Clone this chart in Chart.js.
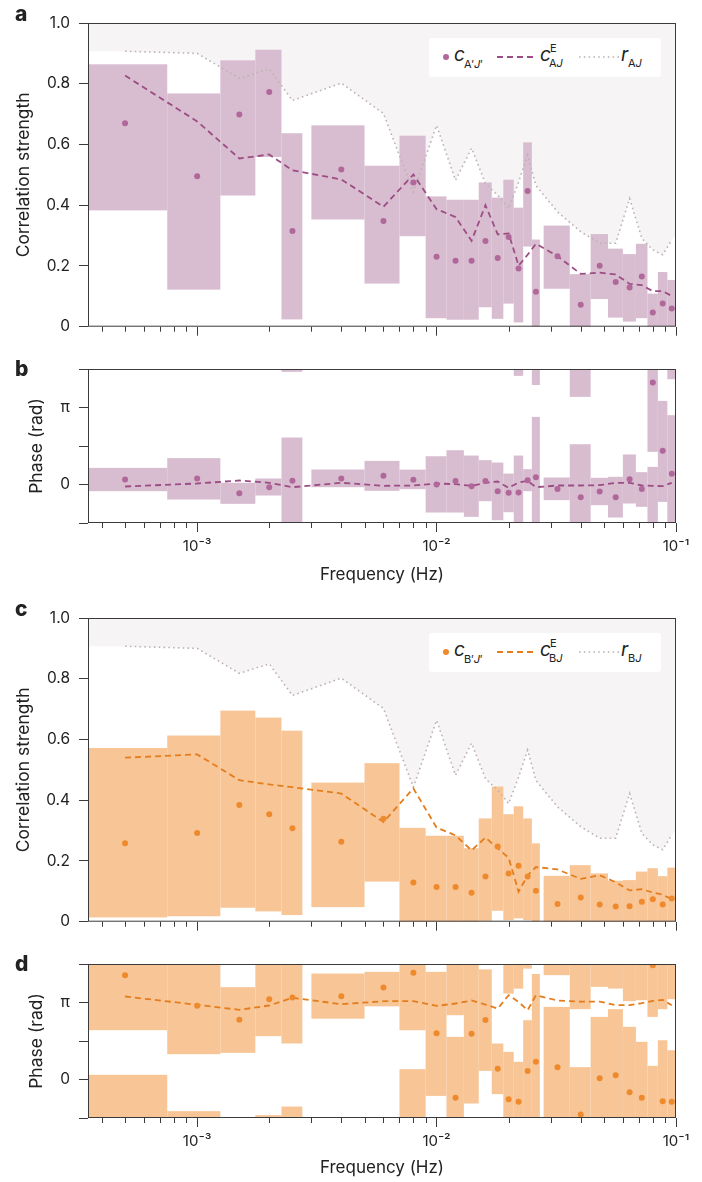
<!DOCTYPE html>
<html>
<head>
<meta charset="utf-8">
<title>Correlation strength and phase vs frequency</title>
<script src="https://cdn.jsdelivr.net/npm/chart.js@4.4.1/dist/chart.umd.min.js"></script>
<style>
  body { margin: 0; background: #fff; }
  #page { position: relative; width: 702px; height: 1182px; overflow: hidden; font-family: Inter, "Noto Sans", sans-serif; color: #222; }
  #page canvas { position: absolute; left: 0; }
  .tag { position: absolute; left: 15px; font-size: 21px; font-weight: 800; line-height: 20px; }
  .legend { position: absolute; left: 429px; width: 232px; height: 39px; background: #fff; border-radius: 3px; }
  .legend > * { position: absolute; }
  .legend .big { font-size: 19px; line-height: 19px; font-style: italic; }
  .legend .small { font-size: 11px; line-height: 11px; }
  .legend .dot { width: 6px; height: 6px; border-radius: 50%; left: 14px; top: 16px; }
</style>
</head>
<body>
<div id="page">
  <canvas id="panelA" width="702" height="345" style="top:0"></canvas>
  <canvas id="panelB" width="702" height="250" style="top:345px"></canvas>
  <canvas id="panelC" width="702" height="345" style="top:595px"></canvas>
  <canvas id="panelD" width="702" height="242" style="top:940px"></canvas>

  <div class="tag" style="top:4px">a</div>
  <div class="tag" style="top:359px">b</div>
  <div class="tag" style="top:599px">c</div>
  <div class="tag" style="top:954px">d</div>

  <div class="legend" style="top:38px">
    <span class="dot" style="background:#b0689a"></span>
    <span class="big" style="left:25px;top:7px">c</span>
    <span class="small" style="left:35px;top:21px">A′<i>J</i>′</span>
    <svg style="left:68px;top:16px" width="40" height="6"><line x1="0" y1="3" x2="40" y2="3" stroke="#9c4d84" stroke-width="1.8" stroke-dasharray="6 4"/></svg>
    <span class="big" style="left:111px;top:7px">c</span>
    <span class="small" style="left:121px;top:5px">E</span>
    <span class="small" style="left:120px;top:20px">A<i>J</i></span>
    <svg style="left:150px;top:16px" width="40" height="6"><line x1="0" y1="3" x2="40" y2="3" stroke="#bdb3b3" stroke-width="1.6" stroke-dasharray="1.6 3.2"/></svg>
    <span class="big" style="left:192px;top:7px">r</span>
    <span class="small" style="left:199px;top:20px">A<i>J</i></span>
  </div>

  <div class="legend" style="top:633px">
    <span class="dot" style="background:#ef8a2c"></span>
    <span class="big" style="left:25px;top:7px">c</span>
    <span class="small" style="left:35px;top:21px">B′<i>J</i>′</span>
    <svg style="left:68px;top:16px" width="40" height="6"><line x1="0" y1="3" x2="40" y2="3" stroke="#e57d1c" stroke-width="1.8" stroke-dasharray="6 4"/></svg>
    <span class="big" style="left:111px;top:7px">c</span>
    <span class="small" style="left:121px;top:5px">E</span>
    <span class="small" style="left:120px;top:20px">B<i>J</i></span>
    <svg style="left:150px;top:16px" width="40" height="6"><line x1="0" y1="3" x2="40" y2="3" stroke="#bdb3b3" stroke-width="1.6" stroke-dasharray="1.6 3.2"/></svg>
    <span class="big" style="left:192px;top:7px">r</span>
    <span class="small" style="left:199px;top:20px">B<i>J</i></span>
  </div>
</div>

<script>
// frequency bins (Hz) and half-width of each bin
const freqs = [0.0005, 0.001, 0.0015, 0.002, 0.0025, 0.004, 0.006, 0.008, 0.010, 0.012, 0.014, 0.016, 0.018,
  0.020, 0.022, 0.024, 0.026, 0.032, 0.040, 0.048, 0.056, 0.064, 0.072, 0.080, 0.088, 0.096];
const binHalfWidth = [0.00025, 0.00025, 0.00025, 0.00025, 0.00025, 0.001, 0.001, 0.001, 0.001, 0.001, 0.001, 0.001,
  0.001, 0.001, 0.001, 0.001, 0.001, 0.004, 0.004, 0.004, 0.004, 0.004, 0.004, 0.004, 0.004, 0.004];

// r (same curve in a and c), plus where the shaded area meets the right edge
const rJ = [0.907, 0.900, 0.818, 0.849, 0.745, 0.802, 0.702, 0.443, 0.663, 0.482, 0.588, 0.471, 0.433,
  0.389, 0.476, 0.565, 0.465, 0.378, 0.313, 0.275, 0.275, 0.422, 0.291, 0.253, 0.237, 0.286];
const rAtRightEdge = 0.30;

// a: correlation strength A'J'
const aLow = [0.383, 0.122, 0.432, 0.559, 0.024, 0.353, 0.142, 0.298, 0.028, 0.023, 0.023, 0.064, 0.026,
  0.076, 0.014, 0.264, 0, 0.125, 0, 0.091, 0.030, 0.017, 0.028, 0, 0, 0];
const aHigh = [0.864, 0.768, 0.877, 0.912, 0.637, 0.663, 0.530, 0.629, 0.429, 0.418, 0.418, 0.475, 0.425,
  0.484, 0.392, 0.607, 0.287, 0.333, 0.173, 0.305, 0.257, 0.239, 0.273, 0.109, 0.180, 0.154];
const aMeasured = [0.670, 0.495, 0.699, 0.773, 0.315, 0.518, 0.348, 0.475, 0.230, 0.217, 0.217, 0.282, 0.226,
  0.295, 0.192, 0.447, 0.115, 0.232, 0.072, 0.201, 0.147, 0.129, 0.165, 0.047, 0.076, 0.060];
const aExpected = [0.827, 0.676, 0.554, 0.567, 0.515, 0.485, 0.395, 0.501, 0.387, 0.361, 0.283, 0.400, 0.304,
  0.307, 0.201, 0.237, 0.273, 0.232, 0.174, 0.178, 0.172, 0.141, 0.137, 0.117, 0.117, 0.101];

// b: phase A'J' (units of pi)
const bLow = [-0.087, -0.195, -0.251, -0.143, -0.537, -0.035, -0.082, -0.061, -0.364, -0.364, -0.420, -0.217, -0.464,
  -0.360, -0.589, -0.087, -0.708, -0.203, -0.862, -0.269, -0.429, -0.247, -0.290, 0.424, -0.226, -0.633];
const bHigh = [0.216, 0.342, 0.022, 0.078, 0.610, 0.195, 0.307, 0.193, 0.367, 0.445, 0.376, 0.316, 0.285,
  0.142, 0.376, 0.199, 0.878, 0.091, 0.523, 0.087, 0.100, 0.390, 0.160, 2.229, 1.086, 0.900];
const bMeasured = [0.065, 0.078, -0.113, -0.035, 0.048, 0.078, 0.113, 0.061, 0.000, 0.047, -0.022, 0.047, -0.087,
  -0.108, -0.104, 0.056, 0.095, -0.057, -0.165, -0.091, -0.165, 0.069, -0.057, 1.324, 0.437, 0.138];
const bExpected = [-0.026, 0.013, 0.052, 0.022, -0.035, 0.022, -0.017, -0.013, 0.013, 0.004, -0.017, 0.022, 0.039,
  -0.043, 0.026, 0.048, -0.035, -0.013, -0.013, -0.009, 0.022, 0.022, -0.013, -0.017, -0.022, 0.022];

// c: correlation strength B'J'
const cLow = [0.014, 0.018, 0.046, 0.034, 0.022, 0.048, 0.132, 0, 0, 0, 0, 0.003, 0.036,
  0.005, 0.011, 0.005, 0, 0, 0, 0, 0, 0, 0, 0, 0, 0];
const cHigh = [0.572, 0.613, 0.695, 0.672, 0.629, 0.458, 0.522, 0.309, 0.283, 0.283, 0.242, 0.340, 0.445,
  0.354, 0.380, 0.340, 0.258, 0.151, 0.186, 0.159, 0.135, 0.137, 0.165, 0.176, 0.150, 0.178];
const cMeasured = [0.258, 0.292, 0.384, 0.354, 0.308, 0.263, 0.339, 0.129, 0.114, 0.114, 0.095, 0.149, 0.248,
  0.159, 0.184, 0.149, 0.102, 0.058, 0.080, 0.057, 0.050, 0.051, 0.066, 0.074, 0.057, 0.076];
const cExpected = [0.540, 0.551, 0.466, 0.452, 0.443, 0.422, 0.328, 0.439, 0.310, 0.284, 0.235, 0.277, 0.242,
  0.210, 0.099, 0.152, 0.180, 0.172, 0.141, 0.153, 0.130, 0.103, 0.107, 0.096, 0.089, 0.074];

// d: phase B'J' (units of pi), intervals wrap around 2 pi
const dLow = [0.641, 0.329, 0.346, 0.563, 0.468, 0.790, 0.950, 0.640, -0.213, 0.835, -0.312, 0.112, -0.190,
  1.116, 1.180, 1.440, -0.500, 1.355, 0.913, 1.203, 1.181, 1.017, 1.030, 0.813, 0.913, 1.043];
const dHigh = [2.061, 1.589, 1.199, 1.537, 1.649, 1.376, 1.398, 2.134, 1.398, 2.554, 1.500, 1.430, 0.467,
  2.359, 2.229, 2.770, 1.370, 2.943, 2.160, 2.813, 2.913, 2.684, 2.489, 2.177, 2.510, 2.380];
const dMeasured = [1.355, 0.957, 0.775, 1.043, 1.065, 1.082, 1.194, 1.385, 0.601, -0.238, 0.593, 0.774, 0.138,
  -0.256, -0.290, 0.112, 0.229, 0.160, -0.455, 0.017, 0.056, -0.165, -0.238, 1.484, -0.282, -0.290];
const dExpected = [1.078, 0.970, 0.905, 0.961, 1.061, 0.978, 1.017, 1.017, 0.956, 0.987, 1.026, 0.973, 0.921,
  1.095, 1.008, 0.900, 1.095, 1.025, 1.012, 1.012, 0.965, 0.965, 0.991, 1.021, 1.034, 0.965];

// axes
const X_MIN = 3.5e-4, X_MAX = 0.1;
const xMajorTicks = [1e-3, 1e-2, 1e-1];
const xTickLabels = ['10⁻³', '10⁻²', '10⁻¹'];
const xMinorTicks = [4e-4, 5e-4, 6e-4, 7e-4, 8e-4, 9e-4, 2e-3, 3e-3, 4e-3, 5e-3, 6e-3, 7e-3, 8e-3, 9e-3,
  2e-2, 3e-2, 4e-2, 5e-2, 6e-2, 7e-2, 8e-2, 9e-2];
const strengthTicks = [0, 0.2, 0.4, 0.6, 0.8, 1.0];
const strengthLabels = ['0', '0.2', '0.4', '0.6', '0.8', '1.0'];
const phaseTicks = [-0.5, 0, 0.5, 1, 1.5];
const phaseLabels = ['', '0', '', 'π', ''];

const AXIS = '#3a3a3a';
const TEXT = '#222';
const SHADE = '#f6f4f5';
const R_LINE = '#bdb3b3';

Chart.defaults.font.family = "Inter, 'Noto Sans', sans-serif";
Chart.defaults.color = TEXT;

function points(values) {
  return freqs.map((f, i) => ({ x: f, y: values[i] }));
}

function drawBoxes(chart, o) {
  const { ctx, chartArea: a, scales: { x, y } } = chart;
  ctx.save();
  ctx.beginPath();
  ctx.rect(a.left, a.top, a.right - a.left, a.bottom - a.top);
  ctx.clip();
  ctx.fillStyle = o.color;
  const shifts = o.period ? [-o.period, 0, o.period] : [0];
  freqs.forEach((f, i) => {
    const x0 = x.getPixelForValue(f - binHalfWidth[i]);
    const x1 = x.getPixelForValue(f + binHalfWidth[i]);
    shifts.forEach((s) => {
      const yTop = y.getPixelForValue(o.high[i] + s);
      const yBot = y.getPixelForValue(o.low[i] + s);
      ctx.fillRect(x0, yTop, x1 - x0, yBot - yTop);
    });
  });
  ctx.restore();
}

const boxesPlugin = {
  id: 'boxes',
  beforeDatasetsDraw(chart, args, o) {
    if (o.low && !o.afterShade) drawBoxes(chart, o);
  },
  afterDatasetDraw(chart, args, o) {
    if (o.low && o.afterShade && args.index === 0) drawBoxes(chart, o);
  }
};

// closed frame round the plot + short minor ticks on the log axis
const framePlugin = {
  id: 'frame',
  afterDraw(chart) {
    const { ctx, chartArea: a, scales: { x } } = chart;
    ctx.save();
    ctx.strokeStyle = AXIS;
    ctx.lineWidth = 1;
    ctx.strokeRect(a.left + 0.5, a.top + 0.5, a.right - a.left - 1, a.bottom - a.top - 1);
    ctx.beginPath();
    xMinorTicks.forEach((v) => {
      const px = Math.round(x.getPixelForValue(v)) + 0.5;
      ctx.moveTo(px, a.bottom);
      ctx.lineTo(px, a.bottom + 5);
    });
    ctx.stroke();
    ctx.restore();
  }
};

function makePanel(id, p) {
  const phase = p.kind === 'phase';
  const datasets = [];
  if (p.r) {
    datasets.push({
      data: [{ x: X_MIN, y: p.r[0] }, ...points(p.r), { x: X_MAX, y: rAtRightEdge }],
      fill: 'end', backgroundColor: SHADE, borderWidth: 0, pointRadius: 0, order: 10
    });
    datasets.push({
      data: points(p.r), borderColor: R_LINE, borderWidth: 1.6, borderDash: [1.6, 3.2],
      pointRadius: 0, fill: false, order: 3
    });
  }
  datasets.push({
    data: points(p.expected), borderColor: p.lineColor, borderWidth: 1.8, borderDash: [6, 4],
    pointRadius: 0, fill: false, order: 2
  });
  datasets.push({
    data: points(p.measured), showLine: false, pointRadius: 3, pointBackgroundColor: p.dotColor,
    pointBorderWidth: 0, order: 1
  });

  return new Chart(document.getElementById(id), {
    type: 'line',
    data: { datasets },
    plugins: [boxesPlugin, framePlugin],
    options: {
      responsive: false,
      animation: false,
      devicePixelRatio: 1,
      layout: { padding: { left: 0, right: 26, top: p.padTop, bottom: 0 } },
      plugins: {
        legend: { display: false },
        tooltip: { enabled: false },
        boxes: { low: p.low, high: p.high, color: p.boxColor, afterShade: !!p.r, period: phase ? 2 : 0 }
      },
      scales: {
        x: {
          type: 'logarithmic',
          min: X_MIN,
          max: X_MAX,
          afterBuildTicks: (s) => { s.ticks = xMajorTicks.map((v) => ({ value: v })); },
          afterFit: (s) => { s.height = p.xHeight; },
          ticks: {
            display: p.xLabels, autoSkip: false, maxRotation: 0, padding: 5,
            font: { size: 15 }, color: TEXT,
            callback: (v, i) => xTickLabels[i]
          },
          grid: { drawOnChartArea: false, tickLength: 9, tickColor: AXIS },
          border: { display: false },
          title: {
            display: p.xLabels, text: 'Frequency (Hz)', font: { size: 17 }, color: TEXT,
            padding: { top: 0, bottom: p.xTitlePad || 0 }
          }
        },
        y: {
          min: phase ? -0.5 : 0,
          max: phase ? 1.5 : 1,
          afterBuildTicks: (s) => { s.ticks = (phase ? phaseTicks : strengthTicks).map((v) => ({ value: v })); },
          afterFit: (s) => { s.width = 88; },
          ticks: {
            padding: 9, font: { size: 15.5 }, color: TEXT,
            callback: (v, i) => (phase ? phaseLabels : strengthLabels)[i]
          },
          grid: { drawOnChartArea: false, tickLength: 9, tickColor: AXIS },
          border: { display: false },
          title: {
            display: true, text: p.yTitle, font: { size: 17.5 }, color: TEXT,
            padding: { top: p.yTitlePad, bottom: 0 }
          }
        }
      }
    }
  });
}

const purple = { boxColor: '#d8bcd0', dotColor: '#b0689a', lineColor: '#9c4d84' };
const orange = { boxColor: '#f7c596', dotColor: '#ef8a2c', lineColor: '#e57d1c' };

makePanel('panelA', {
  ...purple, kind: 'strength', low: aLow, high: aHigh, measured: aMeasured, expected: aExpected, r: rJ,
  padTop: 23, xHeight: 16, xLabels: false, yTitle: 'Correlation strength', yTitlePad: 13
});
makePanel('panelB', {
  ...purple, kind: 'phase', low: bLow, high: bHigh, measured: bMeasured, expected: bExpected,
  padTop: 24, xHeight: 72, xLabels: true, xTitlePad: 10, yTitle: 'Phase (rad)', yTitlePad: 26
});
makePanel('panelC', {
  ...orange, kind: 'strength', low: cLow, high: cHigh, measured: cMeasured, expected: cExpected, r: rJ,
  padTop: 23, xHeight: 16, xLabels: false, yTitle: 'Correlation strength', yTitlePad: 13
});
makePanel('panelD', {
  ...orange, kind: 'phase', low: dLow, high: dHigh, measured: dMeasured, expected: dExpected,
  padTop: 24, xHeight: 64, xLabels: true, xTitlePad: 4, yTitle: 'Phase (rad)', yTitlePad: 26
});
</script>
</body>
</html>
